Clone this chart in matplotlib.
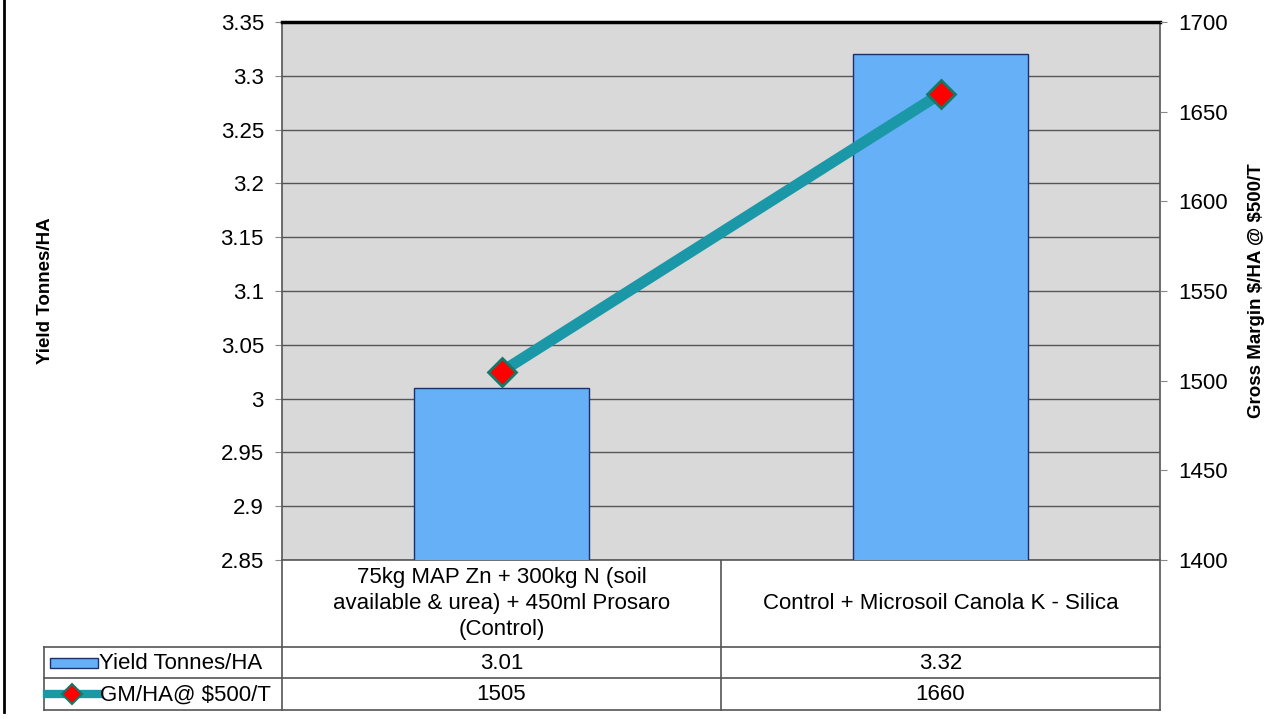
import numpy as np
import matplotlib
matplotlib.use("Agg")
from matplotlib import pyplot as plt
from matplotlib.patches import Rectangle
from matplotlib.lines import Line2D

# ---------------------------
# Data
# ---------------------------
categories = ["75kg MAP Zn + 300kg N (soil\navailable & urea) + 450ml Prosaro\n(Control)",
              "Control + Microsoil Canola K - Silica"]
yield_t_ha = [3.01, 3.32]
gm_ha = [1505, 1660]
series_names = ["Yield Tonnes/HA", "GM/HA@ \\$500/T"]
yield_ticks = [2.85, 2.9, 2.95, 3.0, 3.05, 3.1, 3.15, 3.2, 3.25, 3.3, 3.35]
gm_ticks = [1400, 1450, 1500, 1550, 1600, 1650, 1700]

W, H = 1284, 719
FS = 16
plt.rcParams['font.family'] = ['Liberation Sans', 'DejaVu Sans']

fig = plt.figure(figsize=(W / 100, H / 100), dpi=100)

def px_axes(x0, y0, x1, y1):
    # axes placed by pixel box (top-left origin)
    return fig.add_axes([x0 / W, 1 - y1 / H, (x1 - x0) / W, (y1 - y0) / H])

PX0, PY0, PX1, PY1 = 282, 22, 1160, 560
ax = px_axes(PX0, PY0, PX1, PY1)
ax.set_facecolor('#d9d9d9')

x = np.arange(len(categories))
bar_color = '#66b0f8'
ax.bar(x, yield_t_ha, width=0.4, bottom=0, color=bar_color,
       edgecolor='#1c2f6e', linewidth=1.0, zorder=3)
ax.set_xlim(-0.5, 1.5)
ax.set_ylim(2.85, 3.35)
ax.set_yticks(yield_ticks)
ax.set_yticklabels(['%g' % v for v in yield_ticks], fontsize=FS)
ax.set_xticks([])
ax.grid(axis='y', color='#555555', linewidth=1.0, zorder=1)
ax.tick_params(axis='y', direction='out', length=5, color='#888888', pad=8)
for s in ['left', 'right', 'bottom']:
    ax.spines[s].set_color('#555555')
    ax.spines[s].set_linewidth(1.2)
ax.spines['top'].set_color('black')
ax.spines['top'].set_linewidth(2.5)
ax.set_ylabel("Yield Tonnes/HA", fontsize=13.5, fontweight='bold')
ax.yaxis.set_label_coords(-0.26, 0.5)

# right axis: gross margin line
ax2 = ax.twinx()
ax2.plot(x, gm_ha, color='#1b98a8', linewidth=8, solid_capstyle='butt', zorder=4)
ax2.plot(x, gm_ha, linestyle='none', marker='D', markersize=14,
         markerfacecolor='#ff0000', markeredgecolor='#137a6a', markeredgewidth=2, zorder=5)
ax2.set_ylim(1400, 1700)
ax2.set_yticks(gm_ticks)
ax2.set_yticklabels([str(v) for v in gm_ticks], fontsize=FS)
ax2.tick_params(axis='y', direction='out', length=5, color='#888888', pad=8)
for s in ax2.spines.values():
    s.set_visible(False)
ax2.set_ylabel("Gross Margin \\$/HA @ \\$500/T", fontsize=13.5, fontweight='bold')
ax2.yaxis.set_label_coords(1.10, 0.5)

# ---------------------------
# Data table under the plot
# ---------------------------
tb = px_axes(0, 0, W, H)
tb.set_xlim(0, W)
tb.set_ylim(H, 0)
tb.axis('off')
tb.set_zorder(-1)

grid_c = '#555555'
row_y = [560, 647, 678, 710]
col_x = [44, 282, 721, 1160]
# vertical lines
for cx in col_x[1:]:
    tb.plot([cx, cx], [row_y[0], row_y[3]], color=grid_c, lw=1.2)
tb.plot([col_x[0], col_x[0]], [row_y[1], row_y[3]], color=grid_c, lw=1.2)
for yy in row_y[1:]:
    tb.plot([col_x[0], col_x[3]], [yy, yy], color=grid_c, lw=1.2)

# figure left border
tb.plot([4, 4], [0, 712], color='black', lw=2)

for i, cat in enumerate(categories):
    cx = (col_x[i + 1] + col_x[i + 2]) / 2
    tb.text(cx, (row_y[0] + row_y[1]) / 2, cat, ha='center', va='center',
            fontsize=FS, linespacing=1.3)
    tb.text(cx, (row_y[1] + row_y[2]) / 2 + 1, '%.2f' % yield_t_ha[i],
            ha='center', va='center', fontsize=FS)
    tb.text(cx, (row_y[2] + row_y[3]) / 2 + 1, str(gm_ha[i]),
            ha='center', va='center', fontsize=FS)

# legend keys in the header column
ky1 = (row_y[1] + row_y[2]) / 2
tb.add_patch(Rectangle((50, ky1 - 5), 48, 10, facecolor=bar_color,
                       edgecolor='#1c2f6e', lw=1))
tb.text(99, ky1 + 1, series_names[0], ha='left', va='center', fontsize=FS)
ky2 = (row_y[2] + row_y[3]) / 2
tb.add_line(Line2D([47, 99], [ky2, ky2], color='#1b98a8', lw=6))
tb.add_line(Line2D([72], [ky2], marker='D', markersize=10, markerfacecolor='#ff0000',
                   markeredgecolor='#137a6a', markeredgewidth=1.5))
tb.text(100, ky2 + 1, series_names[1], ha='left', va='center', fontsize=FS)

fig.savefig("out.png", dpi=100, facecolor='white')
